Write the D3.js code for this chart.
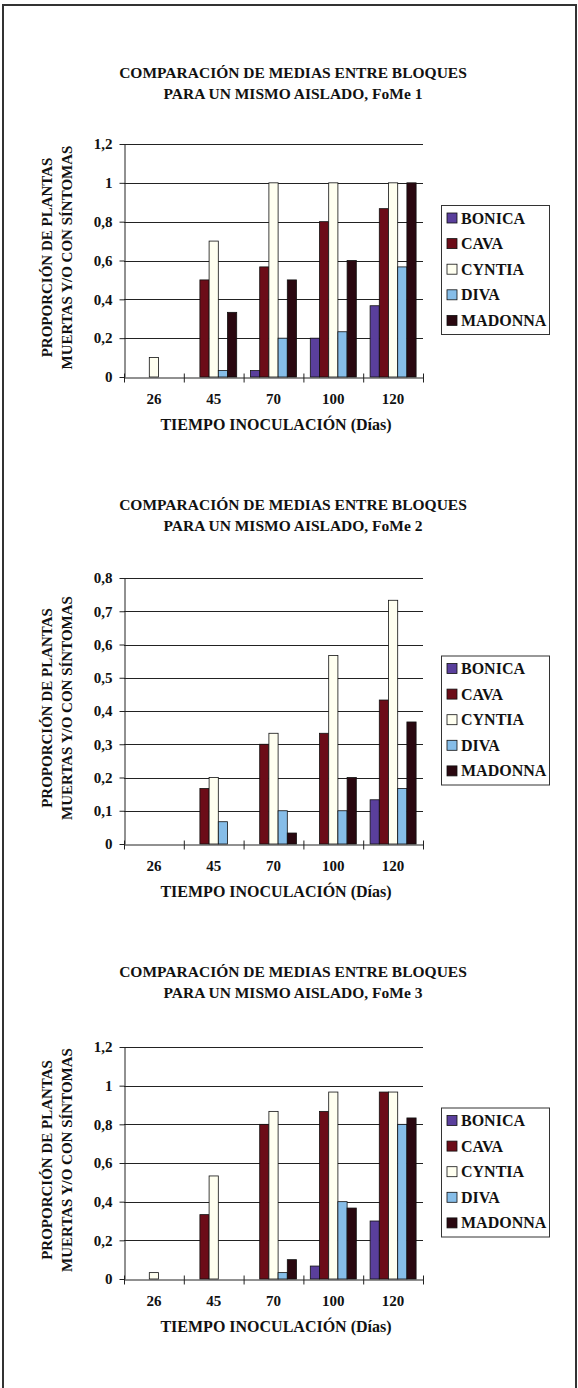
<!DOCTYPE html>
<html>
<head>
<meta charset="utf-8">
<script src="https://cdn.jsdelivr.net/npm/d3@7/dist/d3.min.js"></script>
<style>
  html, body { margin: 0; padding: 0; background: #fff; }
  svg { display: block; }
</style>
</head>
<body>
<script>
// Days after inoculation (categories) and rose varieties (series)
const categories = ["26", "45", "70", "100", "120"];
const series = ["BONICA", "CAVA", "CYNTIA", "DIVA", "MADONNA"];
const seriesColors = ["#5a3f9c", "#6c0c18", "#fffff0", "#86bde8", "#2a0810"];

// Proportion of dead / symptomatic plants, one row per variety, one column per day
const fome1 = [
  [0, 0, 0.033, 0.2, 0.367],
  [0, 0.5, 0.567, 0.8, 0.867],
  [0.1, 0.7, 1, 1, 1],
  [0, 0.033, 0.2, 0.233, 0.567],
  [0, 0.333, 0.5, 0.6, 1]
];
const fome2 = [
  [0, 0, 0, 0, 0.133],
  [0, 0.167, 0.3, 0.333, 0.433],
  [0, 0.2, 0.333, 0.567, 0.733],
  [0, 0.067, 0.1, 0.1, 0.167],
  [0, 0, 0.033, 0.2, 0.367]
];
const fome3 = [
  [0, 0, 0, 0.067, 0.3],
  [0, 0.333, 0.8, 0.867, 0.967],
  [0.033, 0.533, 0.867, 0.967, 0.967],
  [0, 0, 0.033, 0.4, 0.8],
  [0, 0, 0.1, 0.367, 0.833]
];

// Y tick values
const ticksFome1 = [0, 0.2, 0.4, 0.6, 0.8, 1, 1.2];
const ticksFome2 = [0, 0.1, 0.2, 0.3, 0.4, 0.5, 0.6, 0.7, 0.8];
const ticksFome3 = [0, 0.2, 0.4, 0.6, 0.8, 1, 1.2];

const titleLine1 = "COMPARACIÓN DE MEDIAS ENTRE BLOQUES";
const titleLine2 = ["PARA UN MISMO AISLADO, FoMe 1", "PARA UN MISMO AISLADO, FoMe 2", "PARA UN MISMO AISLADO, FoMe 3"];
const yTitle = ["PROPORCIÓN DE PLANTAS", "MUERTAS Y/O CON SÍNTOMAS"];
const xTitle = "TIEMPO INOCULACIÓN (Días)";

const FONT = '"Liberation Serif", "Times New Roman", serif';
const W = 578, H = 1388;
const svg = d3.select("body").append("svg").attr("width", W).attr("height", H);
svg.append("rect").attr("width", W).attr("height", H).attr("fill", "#fff");

function label(sel, size) {
  return sel.style("font-family", FONT).style("font-weight", "bold")
    .style("font-size", size + "px").style("fill", "#111");
}

// outer page frame
svg.append("rect")
  .attr("x", 3).attr("y", 5).attr("width", 573).attr("height", 1400)
  .attr("fill", "none").attr("stroke", "#333").attr("stroke-width", 2);

const esLocale = d3.formatLocale({ decimal: ",", thousands: ".", grouping: [3], currency: ["", " €"] });
const fmt = esLocale.format("~g");

const charts = [
  { values: fome1, ticks: ticksFome1, title2: titleLine2[0], titleY: 78, top: 144, bottom: 377 },
  { values: fome2, ticks: ticksFome2, title2: titleLine2[1], titleY: 510, top: 578, bottom: 844 },
  { values: fome3, ticks: ticksFome3, title2: titleLine2[2], titleY: 977, top: 1047, bottom: 1279 }
];

const plotLeft = 124, plotRight = 423;

charts.forEach(cfg => {
  const g = svg.append("g");

  // title
  label(g.append("text"), 15.5).attr("x", 293).attr("y", cfg.titleY).attr("text-anchor", "middle").text(titleLine1);
  label(g.append("text"), 15.5).attr("x", 293).attr("y", cfg.titleY + 21).attr("text-anchor", "middle").text(cfg.title2);

  const y = d3.scaleLinear().domain([0, d3.max(cfg.ticks)]).range([cfg.bottom, cfg.top]);
  const x0 = d3.scaleBand().domain(categories).range([plotLeft, plotRight]).padding(0);
  const x1 = d3.scaleBand().domain(series).range([0, x0.bandwidth()]).paddingInner(0).paddingOuter(0.75);

  // horizontal gridlines
  g.append("g").selectAll("line").data(cfg.ticks.filter(t => t > 0)).join("line")
    .attr("x1", plotLeft).attr("x2", plotRight)
    .attr("y1", d => Math.round(y(d)) + 0.5).attr("y2", d => Math.round(y(d)) + 0.5)
    .attr("stroke", "#222").attr("stroke-width", 1);

  // bars
  series.forEach((s, si) => {
    const rows = categories.map((c, ci) => ({ c, v: cfg.values[si][ci] })).filter(d => d.v > 0);
    g.append("g").selectAll("rect").data(rows).join("rect")
      .attr("x", d => x0(d.c) + x1(s))
      .attr("y", d => y(d.v))
      .attr("width", x1.bandwidth())
      .attr("height", d => y(0) - y(d.v))
      .attr("fill", seriesColors[si])
      .attr("stroke", "#111").attr("stroke-width", 0.8);
  });

  // y axis
  const yAxis = g.append("g").attr("transform", `translate(${plotLeft + 0.5},0)`)
    .call(d3.axisLeft(y).tickValues(cfg.ticks).tickFormat(fmt).tickSize(5).tickSizeOuter(0).tickPadding(7));
  yAxis.select(".domain").attr("stroke", "#222");
  yAxis.selectAll(".tick line").attr("stroke", "#222");
  label(yAxis.selectAll(".tick text"), 15);

  // x axis: labels centred on categories, ticks on category boundaries
  const xAxis = g.append("g").attr("transform", `translate(0,${Math.round(cfg.bottom) + 0.5})`)
    .call(d3.axisBottom(x0).tickSize(0).tickPadding(16));
  xAxis.select(".domain").attr("stroke", "#222");
  label(xAxis.selectAll(".tick text"), 15);
  const bounds = categories.map(c => x0(c)).concat([plotRight]);
  xAxis.append("g").selectAll("line").data(bounds).join("line")
    .attr("x1", d => d + 0.5).attr("x2", d => d + 0.5)
    .attr("y1", -4).attr("y2", 5).attr("stroke", "#222");

  // x axis title
  label(g.append("text"), 16).attr("x", 276).attr("y", cfg.bottom + 53).attr("text-anchor", "middle").text(xTitle);

  // y axis title, two rotated lines
  const cy = (cfg.top + cfg.bottom) / 2 - 3;
  yTitle.forEach((t, i) => {
    label(g.append("text"), 15).attr("transform", `translate(${52 + i * 20},${cy}) rotate(-90)`)
      .attr("text-anchor", "middle").text(t);
  });

  // legend
  const legH = 129, legTop = (cfg.top + cfg.bottom) / 2 + 9 - legH / 2;
  const leg = g.append("g").attr("transform", `translate(441,${legTop})`);
  leg.append("rect").attr("x", 0.5).attr("y", 0.5).attr("width", 108).attr("height", legH)
    .attr("fill", "#fff").attr("stroke", "#333").attr("stroke-width", 1);
  const items = leg.selectAll("g.item").data(series).join("g")
    .attr("transform", (d, i) => `translate(0,${13 + i * 25.6})`);
  items.append("rect").attr("x", 6).attr("y", -5).attr("width", 10).attr("height", 10)
    .attr("fill", (d, i) => seriesColors[i]).attr("stroke", "#111").attr("stroke-width", 0.8);
  label(items.append("text"), 16).attr("x", 20).attr("y", 5.5).text(d => d);
});
</script>
</body>
</html>
